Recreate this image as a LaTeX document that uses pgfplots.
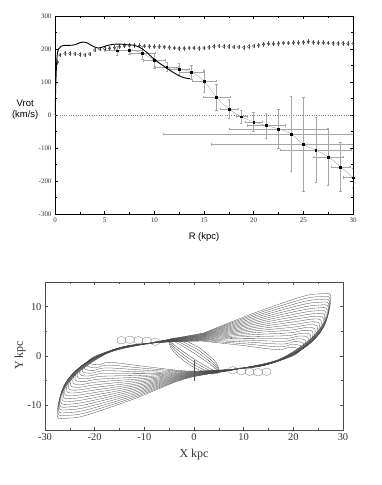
\documentclass[border=0pt]{standalone}
\usepackage{fontspec}
\setmainfont{Liberation Serif}
\newfontfamily\arial{Liberation Sans}
\usepackage{pgfplots}
\pgfplotsset{compat=1.18}
\pgfplotsset{orbit/.style={black!72, line width=0.3pt, smooth, mark=none}}
\begin{document}
\begin{tikzpicture}
\path[use as bounding box] (0,0) rectangle (382bp,485bp);

% ---- rotation curve ----
\begin{axis}[
  at={(55bp,271bp)}, anchor=south west,
  scale only axis, width=298bp, height=198bp,
  xmin=0, xmax=30, ymin=-300, ymax=300,
  xtick={0,5,...,30}, ytick={-300,-200,...,300},
  minor x tick num=1, minor y tick num=1,
  tick align=inside,
  major tick length=3bp, minor tick length=2bp,
  tick style={black, line width=0.4pt},
  axis line style={line width=0.5pt},
  ticklabel style={font=\fontsize{7}{8}\selectfont, text=black!80},
  /pgf/number format/assume math mode=true,
  xlabel={R (kpc)},
  xlabel style={font=\arial\fontsize{9.5}{11}\selectfont, at={(axis description cs:0.5,-0.116)}, anchor=center},
  ylabel={Vrot\\(km/s)},
  ylabel style={rotate=-90, align=center, font=\arial\fontsize{9.5}{11}\selectfont, at={(axis description cs:-0.1,0.525)}, anchor=center},
]
\addplot[gray, line width=0.3pt, dotted] coordinates {(0,0)(30,0)};

\addplot[gray!70, line width=0.4pt, smooth, mark=square*, mark size=0.9bp,
  mark options={black, solid},
  error bars/.cd, x dir=both, x explicit, y dir=both, y explicit,
  error bar style={gray!70, line width=0.4pt},
  error mark options={rotate=90, mark size=1.2bp, gray!70}]
coordinates {
(6.25,195) +- (1.3,15)
(7.5,197) +- (1.3,13)
(8.75,188) +- (1.3,20)
(10,165) +- (1.1,23)
(11.25,146) +- (1.2,13)
(12.5,140) +- (1.0,17)
(13.75,130) +- (1.2,21)
(15,103) +- (1.2,34)
(16.25,54) +- (1.35,39)
(17.5,18) +- (0.9,29)
(18.75,-5) +- (0.55,20)
(20,-21) +- (0.9,29)
(21.25,-32) +- (1.95,38)
(22.5,-42) +- (5.0,59)
(23.75,-57) +- (12.85,113)
(25,-89) +- (9.3,142)
(26.25,-106) +- (3.55,99)
(27.5,-127) +- (1.5,86)
(28.75,-157) +- (0.95,74)
(30,-190) +- (1.0,30)
};

\addplot[only marks, mark=o, mark size=1.3bp, mark options={black!80, line width=0.4pt},
  error bars/.cd, y dir=both, y fixed=7,
  error bar style={black!60, line width=0.3pt},
  error mark=none]
coordinates {
(0.25,160)(0.5,182)(1,187)(1.5,186)(2,185)(2.5,183)(3,182)(3.5,185)(4,197)(4.5,200)
(5,201)(5.5,202)(6,204)(6.5,207)(7,210)(7.5,212)(8,211)(8.5,210)(9,209)(9.5,208)
(10,207)(10.5,207)(11,206)(11.5,205)(12,203)(12.5,202)(13,202)(13.5,203)(14,203)(14.5,202)
(15,203)(15.5,205)(16,208)(16.5,209)(17,208)(17.5,207)(18,206)(18.5,206)(19,205)(19.5,207)
(20,209)(20.5,211)(21,214)(21.5,216)(22,216)(22.5,217)(23,218)(23.5,218)(24,219)(24.5,219)
(25,220)(25.5,222)(26,220)(26.5,219)(27,219)(27.5,218)(28,217)(28.5,217)(29,217)(29.5,216)
(30,217)
};

\addplot[black, line width=0.9pt, smooth, tension=0.5] coordinates {
(0,0)(0.1,110)(0.2,175)(0.35,200)(0.6,208)(1,211)(1.5,211)(2,213)(2.5,219)(2.8,221)
(3.2,219)(3.6,212)(4,206)(4.3,203)(4.7,205)(5.2,210)(5.8,214)(6.5,215)(7.2,213)(7.8,212)
(8.3,208)(8.8,200)(9.3,188)(9.8,174)(10.3,162)(10.8,151)(11.3,141)(11.8,131)(12.3,122)
(12.8,115)(13.3,111)(13.6,110)
};
\end{axis}

% ---- orbits ----
\begin{axis}[
  at={(45bp,55bp)}, anchor=south west,
  scale only axis, width=298bp, height=148bp,
  xmin=-30, xmax=30, ymin=-15, ymax=15,
  xtick={-30,-20,...,30}, ytick={-10,0,10},
  minor x tick num=1, minor y tick num=1,
  tick align=inside,
  major tick length=3bp, minor tick length=2bp,
  tick style={black!70, line width=0.4pt},
  axis line style={black!70, line width=0.5pt},
  ticklabel style={font=\fontsize{10.5}{12}\selectfont, text=black!80},
  /pgf/number format/assume math mode=true,
  xlabel={X kpc}, ylabel={Y kpc},
  xlabel style={font=\fontsize{12}{14}\selectfont, text=black!80, at={(axis description cs:0.5,-0.169)}, anchor=center},
  ylabel style={font=\fontsize{12}{14}\selectfont, text=black!80, at={(axis description cs:-0.084,0.503)}, anchor=center},
]
\addplot[orbit] coordinates {(1.93,4.65)(-7.98,2.8)(-17.05,0.70)(-23.51,-3.50)(-26.8,-7.9)(-27.5,-12.3)(-25.7,-12.6)(-22.0,-12.1)(-12.1,-8.70)(-1.93,-4.65)(7.98,-2.8)(17.05,-0.70)(23.51,3.50)(26.8,7.9)(27.5,12.3)(25.7,12.6)(22.0,12.1)(12.1,8.70)(1.93,4.65)};
\addplot[orbit] coordinates {(1.91,4.57)(-7.93,2.8)(-16.95,0.78)(-23.38,-3.28)(-26.65,-7.50)(-27.34,-11.73)(-25.54,-12.03)(-21.87,-11.53)(-12.03,-8.36)(-1.91,-4.57)(7.93,-2.8)(16.95,-0.78)(23.38,3.28)(26.65,7.50)(27.34,11.73)(25.54,12.03)(21.87,11.53)(12.03,8.36)(1.91,4.57)};
\addplot[orbit] coordinates {(1.91,4.48)(-7.90,2.8)(-16.90,0.85)(-23.30,-3.06)(-26.56,-7.11)(-27.25,-11.16)(-25.45,-11.46)(-21.80,-10.96)(-11.99,-8.02)(-1.91,-4.48)(7.90,-2.8)(16.90,-0.85)(23.30,3.06)(26.56,7.11)(27.25,11.16)(25.45,11.46)(21.80,10.96)(11.99,8.02)(1.91,4.48)};
\addplot[orbit] coordinates {(1.90,4.39)(-7.86,2.8)(-16.80,0.93)(-23.17,-2.83)(-26.42,-6.71)(-27.1,-10.59)(-25.3,-10.89)(-21.68,-10.39)(-11.92,-7.67)(-1.90,-4.39)(7.86,-2.8)(16.80,-0.93)(23.17,2.83)(26.42,6.71)(27.1,10.59)(25.3,10.89)(21.68,10.39)(11.92,7.67)(1.90,4.39)};
\addplot[orbit] coordinates {(1.89,4.31)(-7.83,2.8)(-16.74,1.00)(-23.09,-2.61)(-26.33,-6.32)(-27.0,-10.02)(-25.2,-10.32)(-21.6,-9.82)(-11.88,-7.33)(-1.89,-4.31)(7.83,-2.8)(16.74,-1.00)(23.09,2.61)(26.33,6.32)(27.0,10.02)(25.2,10.32)(21.6,9.82)(11.88,7.33)(1.89,4.31)};
\addplot[orbit] coordinates {(1.88,4.22)(-7.77,2.8)(-16.62,1.08)(-22.91,-2.39)(-26.13,-5.92)(-26.8,-9.45)(-25.0,-9.75)(-21.44,-9.25)(-11.79,-6.99)(-1.88,-4.22)(7.77,-2.8)(16.62,-1.08)(22.91,2.39)(26.13,5.92)(26.8,9.45)(25.0,9.75)(21.44,9.25)(11.79,6.99)(1.88,4.22)};
\addplot[orbit] coordinates {(1.86,4.14)(-7.70,2.8)(-16.46,1.15)(-22.70,-2.17)(-25.89,-5.52)(-26.55,-8.88)(-24.75,-9.18)(-21.24,-8.68)(-11.68,-6.65)(-1.86,-4.14)(7.70,-2.8)(16.46,-1.15)(22.70,2.17)(25.89,5.52)(26.55,8.88)(24.75,9.18)(21.24,8.68)(11.68,6.65)(1.86,4.14)};
\addplot[orbit] coordinates {(1.84,4.05)(-7.63,2.8)(-16.31,1.23)(-22.49,-1.94)(-25.66,-5.13)(-26.3,-8.31)(-24.5,-8.61)(-21.04,-8.11)(-11.57,-6.31)(-1.84,-4.05)(7.63,-2.8)(16.31,-1.23)(22.49,1.94)(25.66,5.13)(26.3,8.31)(24.5,8.61)(21.04,8.11)(11.57,6.31)(1.84,4.05)};
\addplot[orbit] coordinates {(1.82,3.97)(-7.54,2.8)(-16.12,1.31)(-22.23,-1.72)(-25.37,-4.73)(-26.0,-7.74)(-24.2,-8.04)(-20.8,-7.54)(-11.44,-5.96)(-1.82,-3.97)(7.54,-2.8)(16.12,-1.31)(22.23,1.72)(25.37,4.73)(26.0,7.74)(24.2,8.04)(20.8,7.54)(11.44,5.96)(1.82,3.97)};
\addplot[orbit] coordinates {(1.79,3.88)(-7.42,2.8)(-15.87,1.38)(-21.89,-1.50)(-24.99,-4.34)(-25.6,-7.17)(-23.8,-7.47)(-20.48,-6.97)(-11.26,-5.62)(-1.79,-3.88)(7.42,-2.8)(15.87,-1.38)(21.89,1.50)(24.99,4.34)(25.6,7.17)(23.8,7.47)(20.48,6.97)(11.26,5.62)(1.79,3.88)};
\addplot[orbit] coordinates {(1.76,3.80)(-7.31,2.8)(-15.62,1.46)(-21.55,-1.28)(-24.60,-3.94)(-25.2,-6.60)(-23.4,-6.90)(-20.16,-6.40)(-11.09,-5.28)(-1.76,-3.80)(7.31,-2.8)(15.62,-1.46)(21.55,1.28)(24.60,3.94)(25.2,6.60)(23.4,6.90)(20.16,6.40)(11.09,5.28)(1.76,3.80)};
\addplot[orbit] coordinates {(1.74,3.71)(-7.19,2.8)(-15.38,1.53)(-21.20,-1.06)(-24.22,-3.54)(-24.8,-6.03)(-23.0,-6.33)(-19.84,-5.83)(-10.91,-4.94)(-1.74,-3.71)(7.19,-2.8)(15.38,-1.53)(21.20,1.06)(24.22,3.54)(24.8,6.03)(23.0,6.33)(19.84,5.83)(10.91,4.94)(1.74,3.71)};
\addplot[orbit] coordinates {(1.70,3.62)(-7.06,2.8)(-15.10,1.61)(-20.82,-0.83)(-23.79,-3.15)(-24.35,-5.46)(-22.55,-5.76)(-19.48,-5.26)(-10.71,-4.60)(-1.70,-3.62)(7.06,-2.8)(15.10,-1.61)(20.82,0.83)(23.79,3.15)(24.35,5.46)(22.55,5.76)(19.48,5.26)(10.71,4.60)(1.70,3.62)};
\addplot[orbit] coordinates {(1.67,3.54)(-6.93,2.8)(-14.82,1.69)(-20.43,-0.61)(-23.36,-2.75)(-23.9,-4.89)(-22.1,-5.19)(-19.12,-4.69)(-10.52,-4.25)(-1.67,-3.54)(6.93,-2.8)(14.82,-1.69)(20.43,0.61)(23.36,2.75)(23.9,4.89)(22.1,5.19)(19.12,4.69)(10.52,4.25)(1.67,3.54)};
\addplot[orbit] coordinates {(1.64,3.45)(-6.80,2.8)(-14.54,1.76)(-20.05,-0.39)(-22.93,-2.35)(-23.45,-4.32)(-21.65,-4.62)(-18.76,-4.12)(-10.32,-3.91)(-1.64,-3.45)(6.80,-2.8)(14.54,-1.76)(20.05,0.39)(22.93,2.35)(23.45,4.32)(21.65,4.62)(18.76,4.12)(10.32,3.91)(1.64,3.45)};
\addplot[orbit] coordinates {(1.61,3.37)(-6.66,2.8)(-14.23,1.84)(-19.62,-0.17)(-22.45,-1.96)(-22.95,-3.75)(-21.15,-4.05)(-18.36,-3.55)(-10.10,-3.57)(-1.61,-3.37)(6.66,-2.8)(14.23,-1.84)(19.62,0.17)(22.45,1.96)(22.95,3.75)(21.15,4.05)(18.36,3.55)(10.10,3.57)(1.61,3.37)};
\addplot[orbit] coordinates {(1.57,3.28)(-6.51,2.8)(-13.92,1.91)(-19.19,0.06)(-21.97,-1.56)(-22.45,-3.18)(-20.65,-3.48)(-17.96,-2.98)(-9.88,-3.23)(-1.57,-3.28)(6.51,-2.8)(13.92,-1.91)(19.19,-0.06)(21.97,1.56)(22.45,3.18)(20.65,3.48)(17.96,2.98)(9.88,3.23)(1.57,3.28)};
\addplot[orbit] coordinates {(1.54,3.20)(-6.38,2.8)(-13.64,1.99)(-18.81,0.28)(-21.54,-1.17)(-22.0,-2.61)(-20.2,-2.91)(-17.6,-2.41)(-9.68,-2.89)(-1.54,-3.20)(6.38,-2.8)(13.64,-1.99)(18.81,-0.28)(21.54,1.17)(22.0,2.61)(20.2,2.91)(17.6,2.41)(9.68,2.89)(1.54,3.20)};
\addplot[orbit] coordinates {(1.51,3.11)(-6.24,2.8)(-13.33,2.07)(-18.38,0.50)(-21.06,-0.77)(-21.5,-2.04)(-19.7,-2.34)(-17.2,-1.84)(-9.46,-2.54)(-1.51,-3.11)(6.24,-2.8)(13.33,-2.07)(18.38,-0.50)(21.06,0.77)(21.5,2.04)(19.7,2.34)(17.2,1.84)(9.46,2.54)(1.51,3.11)};
\addplot[orbit] coordinates {(1.47,3.03)(-6.09,2.8)(-13.02,2.14)(-17.96,0.72)(-20.59,-0.37)(-21.0,-1.47)(-19.2,-1.77)(-16.8,-1.27)(-9.24,-2.20)(-1.47,-3.03)(6.09,-2.8)(13.02,-2.14)(17.96,-0.72)(20.59,0.37)(21.0,1.47)(19.2,1.77)(16.8,1.27)(9.24,2.20)(1.47,3.03)};
% bar orbits
\addplot[orbit] coordinates {(0.28,0.42)(-3.35,2.63)(-5.01,3.31)(-3.74,2.04)(-0.28,-0.42)(3.35,-2.63)(5.01,-3.31)(3.74,-2.04)(0.28,0.42)};
\addplot[orbit] coordinates {(0.55,0.84)(-3.15,2.93)(-5.01,3.31)(-3.93,1.75)(-0.55,-0.84)(3.15,-2.93)(5.01,-3.31)(3.93,-1.75)(0.55,0.84)};
\addplot[orbit] coordinates {(0.83,1.25)(-2.96,3.22)(-5.01,3.31)(-4.13,1.45)(-0.83,-1.25)(2.96,-3.22)(5.01,-3.31)(4.13,-1.45)(0.83,1.25)};
\addplot[orbit] coordinates {(1.10,1.67)(-2.76,3.52)(-5.01,3.31)(-4.32,1.16)(-1.10,-1.67)(2.76,-3.52)(5.01,-3.31)(4.32,-1.16)(1.10,1.67)};
% small loops
\pgfplotsset{loop/.style={black!55, line width=0.3pt, smooth, mark=none}}
\addplot[loop] coordinates {(-14.6,3.95)(-15.4,3.6)(-15.4,2.8)(-14.6,2.45)(-13.8,2.8)(-13.8,3.6)(-14.6,3.95)};
\addplot[loop] coordinates {(-12.9,4.05)(-13.7,3.7)(-13.7,2.9)(-12.9,2.55)(-12.1,2.9)(-12.1,3.7)(-12.9,4.05)};
\addplot[loop] coordinates {(-11.2,3.95)(-12.0,3.6)(-12.0,2.8)(-11.2,2.45)(-10.4,2.8)(-10.4,3.6)(-11.2,3.95)};
\addplot[loop] coordinates {(-9.5,3.85)(-10.3,3.5)(-10.3,2.7)(-9.5,2.35)(-8.7,2.7)(-8.7,3.5)(-9.5,3.85)};
\addplot[loop] coordinates {(-7.8,3.65)(-8.6,3.3)(-8.6,2.5)(-7.8,2.15)(-7.0,2.5)(-7.0,3.3)(-7.8,3.65)};
\addplot[loop] coordinates {(14.6,-3.95)(15.4,-3.6)(15.4,-2.8)(14.6,-2.45)(13.8,-2.8)(13.8,-3.6)(14.6,-3.95)};
\addplot[loop] coordinates {(12.9,-4.05)(13.7,-3.7)(13.7,-2.9)(12.9,-2.55)(12.1,-2.9)(12.1,-3.7)(12.9,-4.05)};
\addplot[loop] coordinates {(11.2,-3.95)(12.0,-3.6)(12.0,-2.8)(11.2,-2.45)(10.4,-2.8)(10.4,-3.6)(11.2,-3.95)};
\addplot[loop] coordinates {(9.5,-3.85)(10.3,-3.5)(10.3,-2.7)(9.5,-2.35)(8.7,-2.7)(8.7,-3.5)(9.5,-3.85)};
\addplot[loop] coordinates {(7.8,-3.65)(8.6,-3.3)(8.6,-2.5)(7.8,-2.15)(7.0,-2.5)(7.0,-3.3)(7.8,-3.65)};
\addplot[black!70, line width=0.5pt, mark=none] coordinates {(0,-0.8)(0,-5)};
\end{axis}
\end{tikzpicture}
\end{document}
